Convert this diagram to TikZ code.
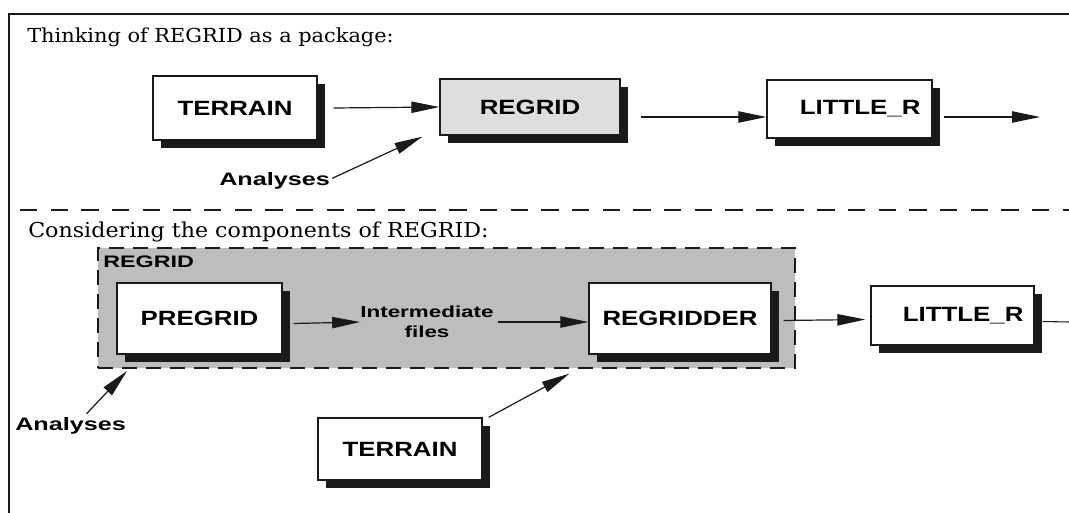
\documentclass[tikz,border=0pt]{standalone}
\usepackage{fontspec}
\usetikzlibrary{positioning,arrows.meta,calc,shadows}
\newfontfamily\titlefont[FakeStretch=1.08]{DejaVu Serif}
\newfontfamily\boxfont[FakeStretch=1.25]{Liberation Sans}
\newfontfamily\tagfont[FakeStretch=1.4]{Liberation Sans}
\definecolor{groupfill}{HTML}{BDBDBD}
\definecolor{pkgfill}{HTML}{DEDEDE}
\definecolor{inkline}{HTML}{1A1A1A}

\tikzset{
  prog/.style={draw=inkline,line width=1pt,fill=white,inner sep=0pt,
    drop shadow={shadow xshift=6pt,shadow yshift=-6pt,opacity=1,fill=inkline},
    font=\boxfont\bfseries\fontsize{15.5}{18}\selectfont},
  tag/.style={inner sep=0pt,font=\tagfont\bfseries\fontsize{13.5}{15}\selectfont},
  heading/.style={inner sep=0pt,anchor=base west,font=\titlefont\fontsize{14.5}{18}\selectfont},
  flow/.style={draw=inkline,line width=0.9pt,-{Triangle[length=21pt,width=8.5pt]}},
  rule/.style={draw=inkline,line width=0.8pt,dash pattern=on 13pt off 10pt},
  grouping/.style={draw=inkline,line width=1.5pt,dash pattern=on 11pt off 7pt,fill=groupfill,inner sep=0pt},
}

\begin{document}
\begin{tikzpicture}[x=0.75pt,y=-0.75pt]
\useasboundingbox (0,0) rectangle (1069,513);
\coordinate (frameTR) at (1069,14);
\coordinate (frameTL) at (9,14);
\coordinate (frameBL) at (9,513);
\draw[inkline,line width=1.2pt] (frameBL) -- (frameTL) -- (frameTR);

\node[heading] (headA) at (27,43) {Thinking of REGRID as a package:};

\node[prog,minimum width=123pt,minimum height=48pt] (terrainA) at (235,108) {TERRAIN};
\node[prog,fill=pkgfill,minimum width=135pt,minimum height=42pt] (regridA) at (530,107) {REGRID};
\node[prog,minimum width=123.75pt,minimum height=43.5pt] (littleA) at (849.5,109) {\hspace{16pt}LITTLE\_R};
\node[tag,anchor=base west] (analysesA) at (219,186) {Analyses};
\coordinate (outA) at (1040,117);

\draw[flow] ($(terrainA.east)+(16,0)$) -- (regridA.west);
\draw[flow] ($(regridA.east)+(20,10)$) -- ($(littleA.west)+(0,8)$);
\draw[flow] ($(littleA.east)+(11,8)$) -- (outA);
\draw[flow] ($(analysesA.east)+(2,-3)$) -- ($(regridA.south west)+(-17,1)$);

\coordinate (sepL) at (20,210);
\coordinate (sepR) at (1069,210);
\draw[rule] (sepL) -- (sepR);

\node[heading,font=\titlefont\fontsize{15.4}{18}\selectfont] (headB) at (28,237) {Considering the components of REGRID:};

\node[grouping,minimum width=522.75pt,minimum height=90pt] (regridgroup) at (446.5,308) {};
\node[tag,anchor=base west,font=\tagfont\bfseries\fontsize{12.5}{15}\selectfont] (grouplabel) at ($(regridgroup.north west)+(6,20)$) {REGRID};

\node[prog,minimum width=123.75pt,minimum height=53.25pt] (pregrid) at (199.5,318.5) {PREGRID};
\node[prog,minimum width=136.5pt,minimum height=53.25pt] (regridder) at (680,318.5) {REGRIDDER};
\node[prog,minimum width=122.25pt,minimum height=44.25pt] (littleB) at (952.5,315.5) {\hspace{16pt}LITTLE\_R};
\node[prog,minimum width=123pt,minimum height=46.5pt] (terrainB) at (400,449) {TERRAIN};
\node[tag,align=center,font=\tagfont\bfseries\fontsize{12}{15}\selectfont] (inter) at (427,322) {Intermediate\\files};
\node[tag,anchor=base west] (analysesB) at (15,430) {Analyses};
\coordinate (outB) at (1069,322);

\draw[flow] ($(pregrid.east)+(11,5)$) -- (inter.west);
\draw[flow] ($(inter.east)+(4,0)$) -- (inter.east -| regridder.west);
\draw[flow] ($(regridder.east)+(12,2)$) -- ($(littleB.west)+(-5,4)$);
\draw[inkline,line width=0.8pt] ($(littleB.east)+(8,6)$) -- (outB);
\draw[flow] ($(analysesB.north)+(16,-3)$) -- ($(regridgroup.south west)+(30,2)$);
\draw[flow] ($(terrainB.north east)+(6,0)$) -- ($(regridder.south west)+(-19,19)$);
\end{tikzpicture}
\end{document}
